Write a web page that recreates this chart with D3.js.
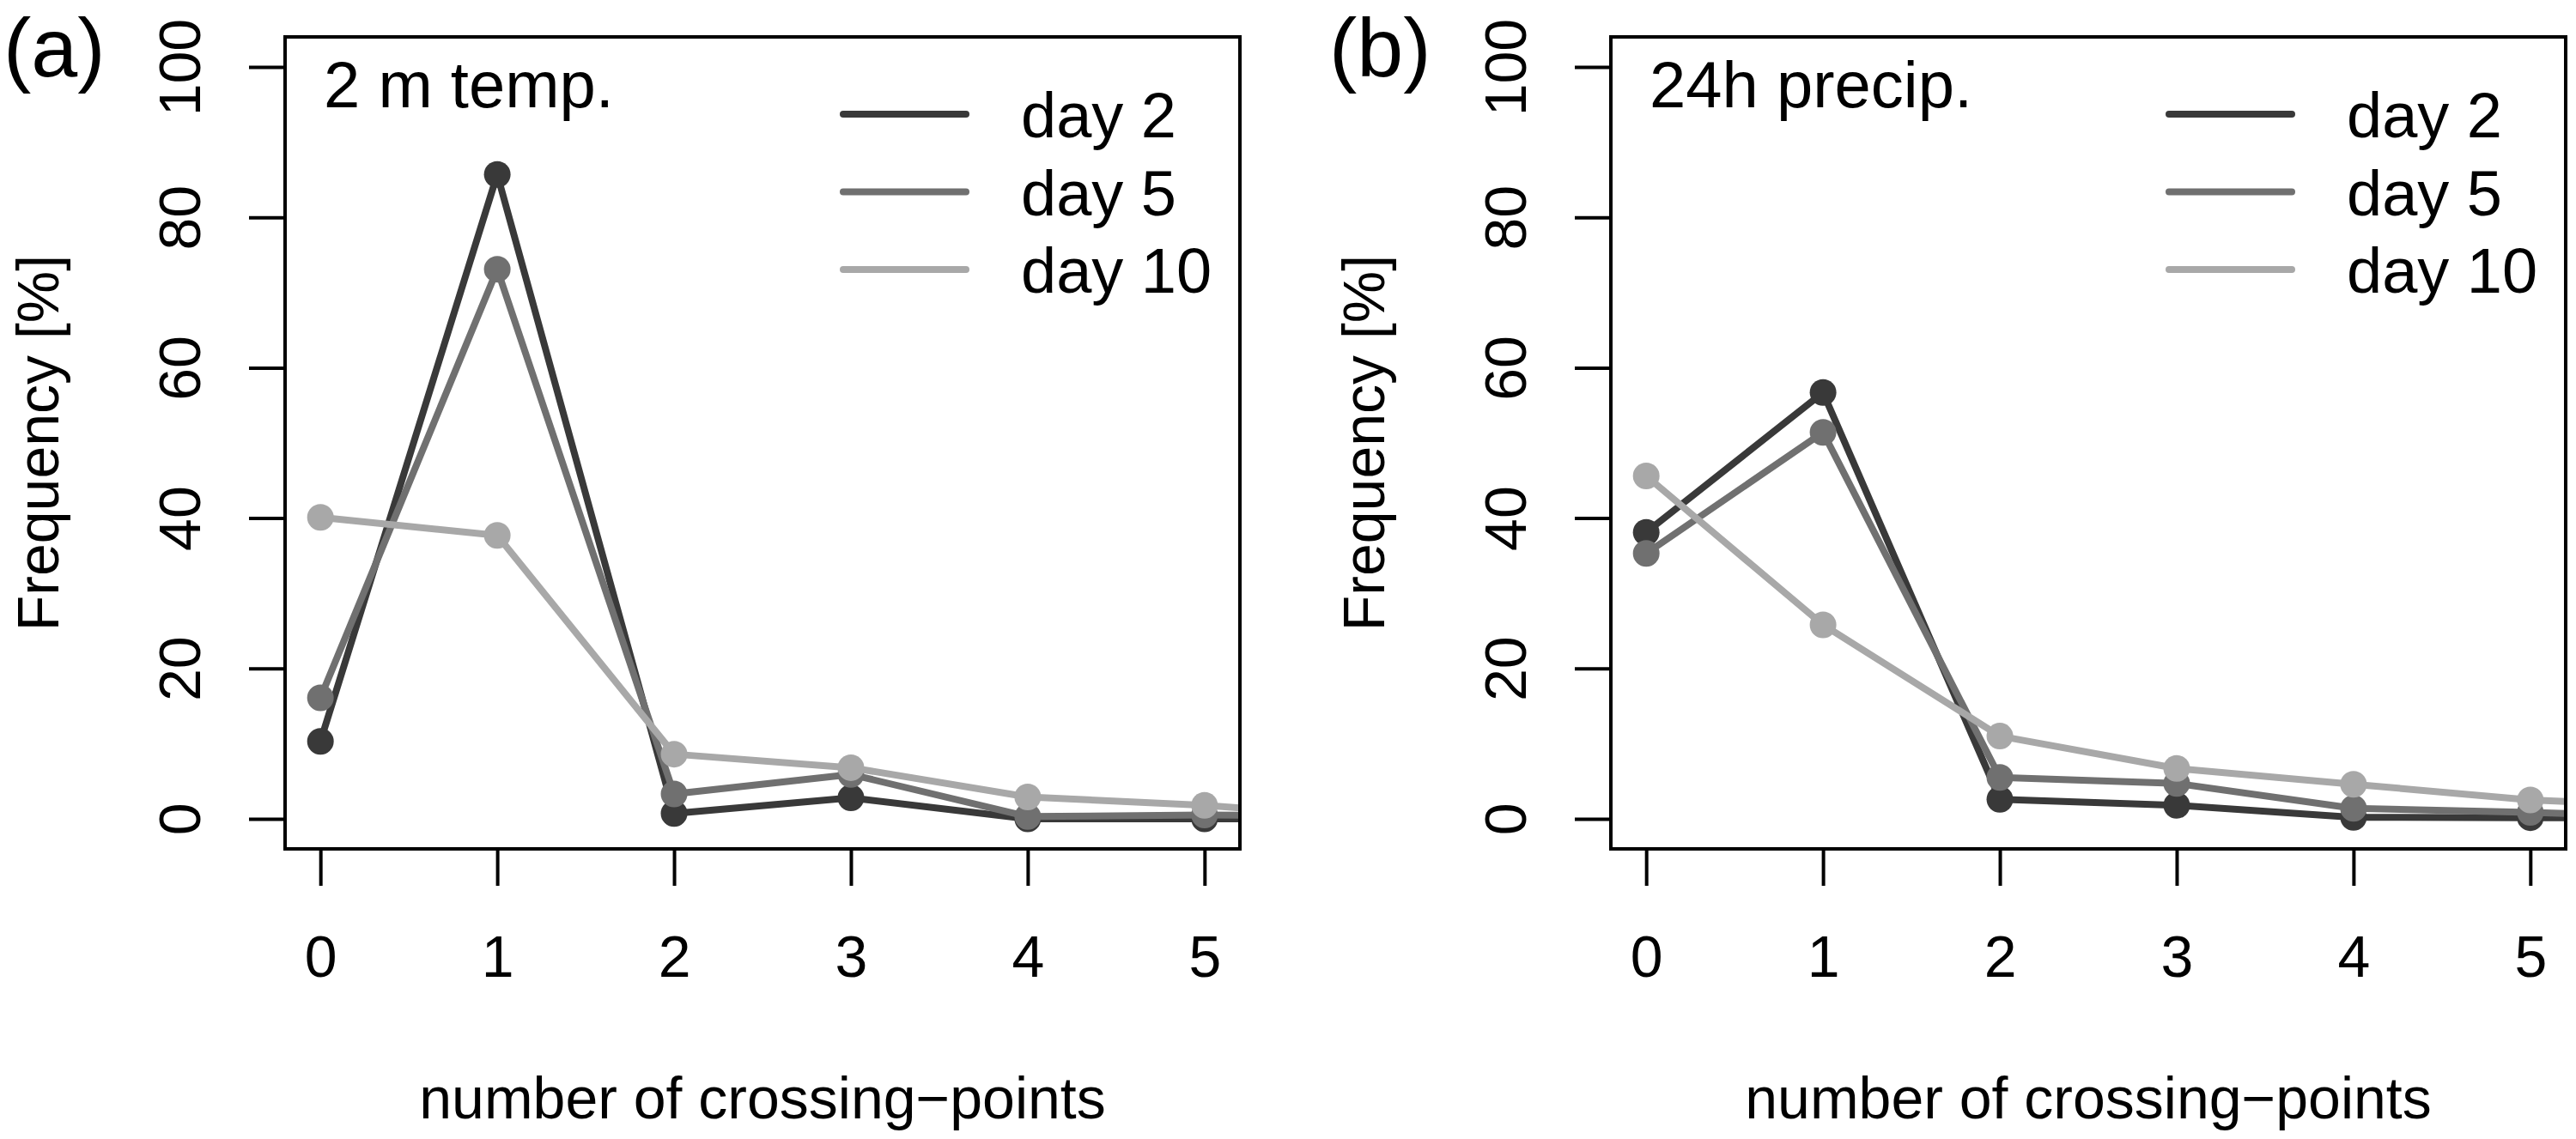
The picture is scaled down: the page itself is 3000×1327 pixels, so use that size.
<!DOCTYPE html>
<html>
<head>
<meta charset="utf-8">
<script src="https://cdn.jsdelivr.net/npm/d3@7"></script>
<style>
  html, body { margin: 0; padding: 0; background: #fff; }
  svg { display: block; font-family: "Liberation Sans", Arial, sans-serif; }
</style>
</head>
<body>
<div id="chart"></div>
<script>
// number of crossing-points (x); 6 is outside the box and only shows as a clipped stub
const crossings = [0, 1, 2, 3, 4, 5, 6];
const xTicks = [0, 1, 2, 3, 4, 5];
const yTicks = [0, 20, 40, 60, 80, 100];
const leadDays = ["day 2", "day 5", "day 10"];
const dayColors = ["#393939", "#707070", "#a8a8a8"];

// (a) 2 m temperature, frequency in %
const tempDay2 = [10.3, 85.7, 0.7, 2.8, 0.0, 0.0, 0.0];
const tempDay5 = [16.1, 73.1, 3.3, 5.9, 0.3, 0.5, 0.4];
const tempDay10 = [40.1, 37.7, 8.6, 6.8, 2.9, 1.8, 0.1];

// (b) 24h precipitation, frequency in %
const precipDay2 = [38.1, 56.7, 2.6, 1.8, 0.2, 0.15, 0.1];
const precipDay5 = [35.3, 51.4, 5.5, 4.7, 1.4, 0.85, 0.2];
const precipDay10 = [45.6, 25.8, 11.0, 6.7, 4.6, 2.5, 1.5];

const panels = [
  { tag: "(a)", title: "2 m temp.", series: [tempDay2, tempDay5, tempDay10], dx: 0 },
  { tag: "(b)", title: "24h precip.", series: [precipDay2, precipDay5, precipDay10], dx: 1544 }
];

const width = 3000, height = 1327;
const box = { left: 332, right: 1444, top: 43, bottom: 989 };

const svg = d3.select("#chart").append("svg")
  .attr("width", width)
  .attr("height", height);

// R style: 4% padding on both axes
const x = d3.scaleLinear().domain([-0.2, 5.2]).range([box.left, box.right]);
const y = d3.scaleLinear().domain([-4, 104]).range([box.bottom, box.top]);

const line = d3.line()
  .x((d, i) => x(crossings[i]))
  .y(d => y(d));

panels.forEach((p, pi) => {
  const g = svg.append("g").attr("transform", `translate(${p.dx},0)`);

  const clipId = "clip" + pi;
  g.append("clipPath").attr("id", clipId)
    .append("rect")
    .attr("x", box.left).attr("y", box.top)
    .attr("width", box.right - box.left)
    .attr("height", box.bottom - box.top);

  // series: lines + points, day 2 first so day 10 sits on top
  const plot = g.append("g").attr("clip-path", `url(#${clipId})`);
  p.series.forEach((vals, si) => {
    plot.append("path")
      .attr("d", line(vals))
      .attr("fill", "none")
      .attr("stroke", dayColors[si])
      .attr("stroke-width", 8)
      .attr("stroke-linejoin", "round");
    plot.selectAll(null)
      .data(vals.slice(0, xTicks.length))
      .enter()
      .append("circle")
      .attr("cx", (d, i) => x(crossings[i]))
      .attr("cy", d => y(d))
      .attr("r", 15.5)
      .attr("fill", dayColors[si]);
  });

  // box
  g.append("rect")
    .attr("x", box.left).attr("y", box.top)
    .attr("width", box.right - box.left)
    .attr("height", box.bottom - box.top)
    .attr("fill", "none")
    .attr("stroke", "#000")
    .attr("stroke-width", 4);

  // y axis
  const ya = g.append("g")
    .attr("transform", `translate(${box.left},0)`)
    .call(d3.axisLeft(y).tickValues(yTicks).tickSize(42).tickSizeOuter(0));
  ya.select(".domain").remove();
  ya.selectAll(".tick line").attr("stroke-width", 4);
  ya.selectAll(".tick text")
    .attr("x", 0).attr("dy", 0)
    .attr("transform", "translate(-99,0) rotate(-90)")
    .attr("text-anchor", "middle")
    .attr("font-size", 68)
    .attr("font-family", "Liberation Sans, Arial, sans-serif")
    .attr("fill", "#000");

  // x axis
  const xa = g.append("g")
    .attr("transform", `translate(0,${box.bottom})`)
    .call(d3.axisBottom(x).tickValues(xTicks).tickFormat(d3.format("d"))
      .tickSize(43).tickSizeOuter(0));
  xa.select(".domain").remove();
  xa.selectAll(".tick line").attr("stroke-width", 4);
  xa.selectAll(".tick text")
    .attr("y", 149).attr("dy", 0)
    .attr("font-size", 68)
    .attr("font-family", "Liberation Sans, Arial, sans-serif")
    .attr("fill", "#000");

  // axis titles
  g.append("text")
    .attr("transform", `translate(68,${(box.top + box.bottom) / 2}) rotate(-90)`)
    .attr("text-anchor", "middle")
    .attr("font-size", 68)
    .text("Frequency [%]");

  g.append("text")
    .attr("x", (box.left + box.right) / 2)
    .attr("y", 1303)
    .attr("text-anchor", "middle")
    .attr("font-size", 68)
    .text("number of crossing\u2212points");

  // panel tag and title
  g.append("text")
    .attr("x", 4).attr("y", 89)
    .attr("font-size", 97)
    .text(p.tag);

  g.append("text")
    .attr("x", 377).attr("y", 125)
    .attr("font-size", 76)
    .text(p.title);

  // legend
  const legend = g.append("g");
  leadDays.forEach((lab, i) => {
    const ly = 133 + i * 90.5;
    legend.append("line")
      .attr("x1", 982).attr("x2", 1125)
      .attr("y1", ly).attr("y2", ly)
      .attr("stroke", dayColors[i])
      .attr("stroke-width", 8)
      .attr("stroke-linecap", "round");
    legend.append("text")
      .attr("x", 1189).attr("y", ly + 27)
      .attr("font-size", 74)
      .text(lab);
  });
});
</script>
</body>
</html>
